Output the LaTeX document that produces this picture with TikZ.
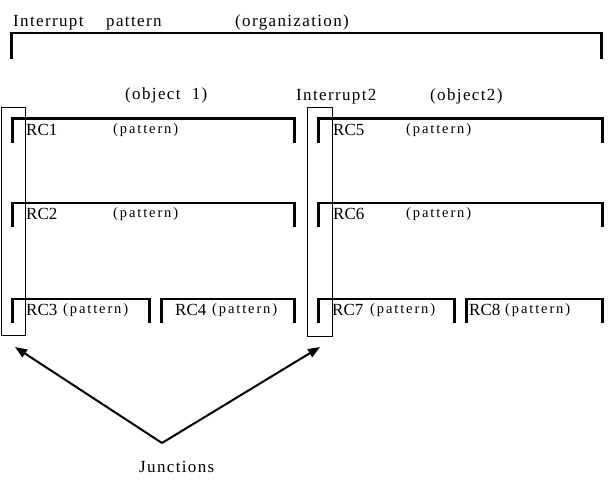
\documentclass[tikz,border=0pt]{standalone}
\usepackage{fontspec}
\setmainfont{Liberation Serif}
\newfontfamily\trackfont[LetterSpace=8]{Liberation Serif}
\newfontfamily\patfont[LetterSpace=13]{Liberation Serif}
\usetikzlibrary{arrows.meta}
\newcommand\rcbr[4]{%
  \draw[brtop] (#1,#3) -- (#2,#3);
  \draw[brleg] (#1,#3-1) -- (#1,#4);
  \draw[brleg] (#2,#3-1) -- (#2,#4);}
\begin{document}
\begin{tikzpicture}[x=1pt,y=-1pt,
  lbl/.style={inner sep=0pt, anchor=base west, font=\trackfont\fontsize{17}{19}\selectfont},
  rc/.style={inner sep=0pt, anchor=base west, font=\fontsize{17}{19}\selectfont},
  pat/.style={inner sep=0pt, anchor=base west, font=\patfont\fontsize{14.5}{16}\selectfont},
  brtop/.style={line width=2.3pt},
  brleg/.style={line width=3pt},
  jbox/.style={draw, line width=1.2pt, inner sep=0pt, anchor=north west},
  arr/.style={line width=2pt, -{Triangle[length=12pt,width=9pt]}}]
\useasboundingbox (0,0) rectangle (609,502);
% top texts
\node[lbl] (t1) at (13,27) {Interrupt};
\node[lbl] (t2) at (106,27) {pattern};
\node[lbl] (t3) at (235,27) {(organization)};
% top bracket
\rcbr{11}{601}{33}{59}
% object headers
\node[lbl] (o1) at (125,100) {(object\ \ 1)};
\node[lbl] (i2) at (296,101) {Interrupt2};
\node[lbl] (o2) at (430,101) {(object2)};
% left object brackets
\rcbr{12}{294}{118.5}{143}
\rcbr{12}{294}{203}{227}
\rcbr{12}{149}{299}{323}
\rcbr{161}{294}{299}{323}
% right object brackets
\rcbr{318}{602}{118.5}{143}
\rcbr{318}{602}{203}{227}
\rcbr{318}{454}{299}{323}
\rcbr{466}{602}{299}{323}
% labels left
\node[rc] (rc1) at (26,136) {RC1};
\node[pat] (p1) at (113,134) {(pattern)};
\node[rc] (rc2) at (26,220) {RC2};
\node[pat] (p2) at (113,218) {(pattern)};
\node[rc] (rc3) at (26,315) {RC3};
\node[pat] (p3) at (63,313) {(pattern)};
\node[rc] (rc4) at (175,315) {RC4};
\node[pat] (p4) at (212,313) {(pattern)};
% labels right
\node[rc] (rc5) at (333,136) {RC5};
\node[pat] (p5) at (406,134) {(pattern)};
\node[rc] (rc6) at (333,220) {RC6};
\node[pat] (p6) at (406,218) {(pattern)};
\node[rc] (rc7) at (332,315) {RC7};
\node[pat] (p7) at (370,313) {(pattern)};
\node[rc] (rc8) at (469,315) {RC8};
\node[pat] (p8) at (505,313) {(pattern)};
% junction boxes
\node[jbox, minimum width=24pt, minimum height=228pt] (j1) at (1,107) {};
\node[jbox, minimum width=25pt, minimum height=229pt] (j2) at (307,107) {};
% arrows
\coordinate (apex) at (162,443);
\coordinate (tip1) at (15,347);
\coordinate (tip2) at (320,347);
\draw[arr] (apex) -- (tip1);
\draw[arr] (apex) -- (tip2);
\node[lbl] (jn) at (139,472) {Junctions};
\end{tikzpicture}
\end{document}
